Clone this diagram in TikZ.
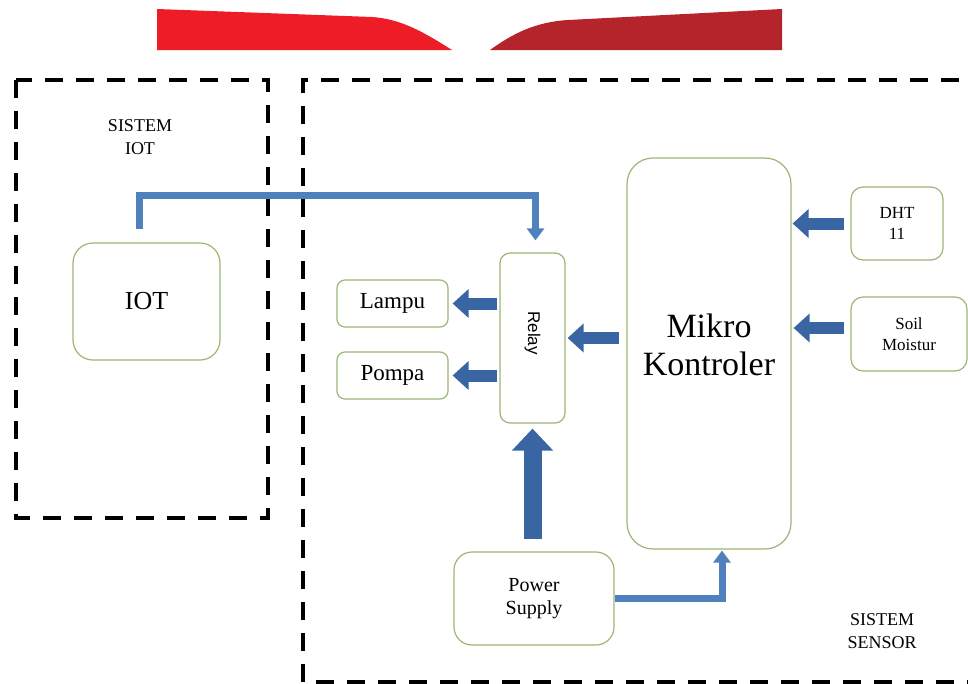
\documentclass[tikz,border=0pt]{standalone}
\usepackage{fontspec}
\setmainfont{Liberation Serif}
\newfontfamily\relayfont{Liberation Sans}
\usetikzlibrary{arrows.meta}

\definecolor{boxline}{RGB}{155,182,118}
\definecolor{linkblue}{RGB}{79,129,189}
\definecolor{fatblue}{RGB}{58,101,163}
\definecolor{bannerred}{RGB}{237,28,39}
\definecolor{bannerdark}{RGB}{180,36,42}

\begin{document}
\begin{tikzpicture}[
          x=1pt, y=-1pt,
          block/.style={
            draw=boxline,
            line width=1.2pt,
            fill=white,
            rounded corners=#1,
            align=center,
            inner sep=0pt,
          },
          block/.default=10pt,
          dashbox/.style={line width=4.5pt, dash pattern=on 18pt off 13pt},
          caption/.style={align=center, font=\fontsize{18}{23}\selectfont},
          fat/.style={
            draw=fatblue, line width=12pt,
            -{Triangle[width=28pt,length=16pt]},
          },
          bigfat/.style={
            draw=fatblue, line width=18pt,
            -{Triangle[width=40pt,length=22pt]},
          },
          link/.style={
            draw=linkblue, line width=7pt,
            -{Triangle[width=17pt,length=12pt]},
          },
        ]
        \clip (0,0) rectangle (968,683);
        % banner
        \fill[bannerred] (157,9) -- (372,17) .. controls (402,19) and (425,33) .. (452,50)
          -- (157,50) -- cycle;
        \fill[bannerdark] (490,50) .. controls (512,34) and (535,22) .. (568,20)
          -- (782,9) -- (782,50) -- cycle;
        % group frames
        \draw[dashbox] (16,80) rectangle (268,518);
        \draw[dashbox] (990,80) -- (303,80) -- (303,682) -- (990,682);
        \node[caption] (sysiot) at (140,137) {SISTEM\\IOT};
        \node[caption] (syssensor) at (882,631) {SISTEM\\SENSOR};
        % blocks
        \node[block=20pt, minimum width=147pt, minimum height=117pt,
          font=\fontsize{26}{30}\selectfont] (iot) at (146.5,301.5) {IOT};
        \node[block=10pt, minimum width=65pt, minimum height=170pt] (relay) at (532.5,338) {};
        \node[rotate=-90, font=\relayfont\fontsize{17}{20}\selectfont] (relaytext)
          at ([yshift=5pt]relay.center) {Relay};
        \node[block=8pt, minimum width=111pt, minimum height=47pt,
          font=\fontsize{23}{26}\selectfont] (lampu) at (392.5,303.5) {Lampu};
        \node[block=8pt, minimum width=111pt, minimum height=47pt,
          font=\fontsize{23}{26}\selectfont] (pompa) at (392.5,375.5) {Pompa};
        \node[block=26pt, minimum width=164pt, minimum height=391pt] (mikro) at (709,353.5) {};
        \node[align=center, font=\fontsize{34}{38}\selectfont] (mikrotext)
          at ([yshift=9pt]mikro.center) {Mikro\\Kontroler};
        \node[block=12pt, minimum width=92pt, minimum height=73pt,
          font=\fontsize{17}{21}\selectfont] (dht) at (897,223.5) {DHT\\11};
        \node[block=12pt, minimum width=116pt, minimum height=74pt,
          font=\fontsize{17}{21}\selectfont] (soil) at (909,334) {Soil\\Moistur};
        \node[block=18pt, minimum width=160pt, minimum height=93pt,
          font=\fontsize{20}{23}\selectfont] (power) at (534,598.5) {Power\\Supply};
        \coordinate (soilin) at ([yshift=6pt]soil.west);
        % connections
        \draw[link, shorten <=13pt, shorten >=12pt] ([xshift=-7pt]iot.north)
          |- ([xshift=3pt, yshift=57pt]relay.north) -- ([xshift=3pt]relay.north);
        \draw[fat, shorten <=2pt, shorten >=4pt] (relay.west |- lampu.east) -- (lampu.east);
        \draw[fat, shorten <=2pt, shorten >=4pt] (relay.west |- pompa.east) -- (pompa.east);
        \draw[fat, shorten <=7pt, shorten >=2pt] (mikro.west |- relay.east) -- (relay.east);
        \draw[fat, shorten <=6pt, shorten >=1pt] (dht.west) -- (mikro.east |- dht.west);
        \draw[fat, shorten <=6pt, shorten >=2pt] (soilin) -- (mikro.east |- soilin);
        \draw[bigfat, shorten <=12pt, shorten >=5pt] (relay.south |- power.north) -- (relay.south);
        \draw[link, shorten >=1pt] (power.east) -| ([xshift=13pt]mikro.south);
        \end{tikzpicture}
\end{document}
